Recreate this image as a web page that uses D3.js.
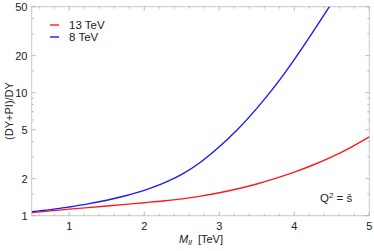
<!DOCTYPE html>
<html><head><meta charset="utf-8">
<script src="https://cdn.jsdelivr.net/npm/d3@7"></script>
<style>
html,body{margin:0;padding:0;background:#fff;}
text{font-family:"Liberation Sans",Arial,sans-serif;}
</style></head>
<body>
<svg id="c" width="374" height="251"></svg>
<script>
const mass = [0.5,0.75,1,1.25,1.5,1.75,2,2.25,2.5,2.75,3,3.25,3.5,3.75,4,4.25,4.5,4.75,5];
const ratio13 = [1.059,1.094,1.130,1.164,1.199,1.236,1.276,1.318,1.371,1.442,1.535,1.656,1.811,2.009,2.259,2.582,3.006,3.581,4.365];
const ratio8 = [1.08,1.12,1.178,1.247,1.336,1.452,1.607,1.828,2.163,2.72,3.63,5.07,7.46,11.48,18.6,31.3,53.7];
const seriesNames = ["13 TeV","8 TeV"];
const seriesColors = ["#ff1a1a","#1a1aff"];
const xTicks = [1,2,3,4,5];
const yTicks = [1,2,5,10,20,50];
const yMinor = [1.5,3,4,6,7,8,9,15,30,40];

const svg = d3.select("#c");
const L=31.7, R=369.3, T=6.7, B=215.7;
const x = d3.scaleLinear().domain([0.5,5]).range([L,R]);
const y = d3.scaleLog().domain([1,50]).range([B,T]);
const xMinor = d3.range(0.6,5.0001,0.2).filter(v=>Math.abs(v-Math.round(v))>1e-6);

const g = svg.append("g");
g.append("rect").attr("x",L).attr("y",T).attr("width",R-L).attr("height",B-T)
 .attr("fill","none").attr("stroke","#c8c8c8").attr("stroke-width",1);

const tc="#aaaaaa";
function tick(x1,y1,x2,y2){g.append("line").attr("x1",x1).attr("y1",y1).attr("x2",x2).attr("y2",y2).attr("stroke",tc).attr("stroke-width",0.8);}
xTicks.forEach(v=>{tick(x(v),B,x(v),B-4);tick(x(v),T,x(v),T+4);});
xMinor.forEach(v=>{tick(x(v),B,x(v),B-2);tick(x(v),T,x(v),T+2);});
yTicks.forEach(v=>{tick(L,y(v),L+4,y(v));tick(R,y(v),R-4,y(v));});
yMinor.forEach(v=>{tick(L,y(v),L+2,y(v));tick(R,y(v),R-2,y(v));});

xTicks.forEach(v=>g.append("text").attr("x",x(v)).attr("y",229.5).attr("text-anchor","middle")
 .attr("font-size",11).attr("fill","#222").text(v));
yTicks.forEach(v=>g.append("text").attr("x",27.5).attr("y",y(v)+4).attr("text-anchor","end")
 .attr("font-size",11).attr("fill","#222").text(v));

svg.append("clipPath").attr("id","clip").append("rect").attr("x",L).attr("y",T).attr("width",R-L).attr("height",B-T);
const line = d3.line().x(d=>x(d[0])).y(d=>y(d[1])).curve(d3.curveCatmullRom.alpha(0.5));
[ratio13, ratio8].forEach((arr,i)=>{
  g.append("path").attr("d",line(arr.map((v,j)=>[mass[j],v])))
   .attr("fill","none").attr("stroke",seriesColors[i]).attr("stroke-width",1.4)
   .attr("clip-path","url(#clip)");
});

seriesNames.forEach((n,i)=>{
  const yy = 25 + i*12;
  g.append("line").attr("x1",50).attr("x2",59).attr("y1",yy).attr("y2",yy)
   .attr("stroke",seriesColors[i]).attr("stroke-width",1.4);
  g.append("text").attr("x",69).attr("y",yy+4).attr("font-size",11.5).attr("fill","#222").text(n);
});

const q = g.append("text").attr("x",320).attr("y",202).attr("font-size",11.5).attr("fill","#222");
q.append("tspan").text("Q");
q.append("tspan").attr("dy",-4).attr("font-size",8).text("2");
q.append("tspan").attr("dy",4).text(" = ŝ");

const xl = g.append("text").attr("x",201).attr("y",243).attr("text-anchor","middle").attr("font-size",11).attr("fill","#222").attr("xml:space","preserve");
xl.append("tspan").attr("font-style","italic").text("M");
xl.append("tspan").attr("font-style","italic").attr("font-size",8).attr("dy",2).text("ll");
xl.append("tspan").attr("dy",-2).text("  [TeV]");

g.append("text").attr("transform","translate(13,111) rotate(-90)").attr("text-anchor","middle")
 .attr("font-size",11).attr("fill","#222").text("(DY+PI)/DY");
</script>
</body></html>
